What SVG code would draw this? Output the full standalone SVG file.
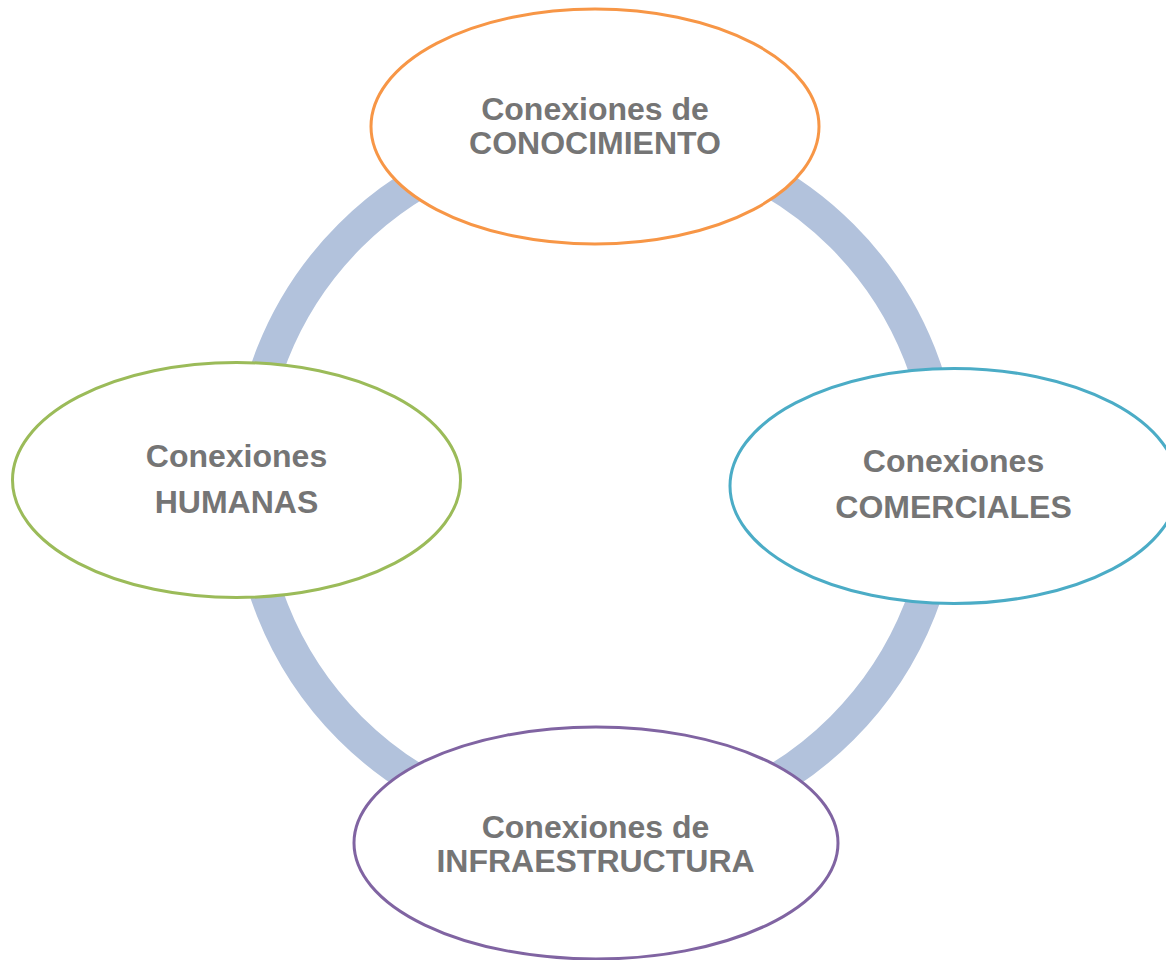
<svg xmlns="http://www.w3.org/2000/svg" width="1166" height="960" viewBox="0 0 1166 960">
<style>
.node{fill:#ffffff;stroke-width:3}
.lbl{font-family:"Liberation Sans",Arial,sans-serif;font-weight:bold;font-size:32px;fill:#757575;text-anchor:middle}
.ring{fill:none;stroke:#B2C2DC;stroke-width:33}
</style>
<rect width="1166" height="960" fill="#ffffff"/>
<g id="connectors">
<circle class="ring" cx="596" cy="482" r="348"/>
</g>
<g id="node-conocimiento">
<ellipse class="node" cx="595" cy="126.5" rx="224" ry="117.5" stroke="#F79646"/>
<text class="lbl" x="595" y="120">Conexiones de</text>
<text class="lbl" x="595" y="154">CONOCIMIENTO</text>
</g>
<g id="node-humanas">
<ellipse class="node" cx="236.5" cy="480" rx="224" ry="117.5" stroke="#9BBB59"/>
<text class="lbl" x="236.5" y="467">Conexiones</text>
<text class="lbl" x="236.5" y="513">HUMANAS</text>
</g>
<g id="node-comerciales">
<ellipse class="node" cx="954" cy="486" rx="224" ry="117.5" stroke="#4BACC6"/>
<text class="lbl" x="953.5" y="472">Conexiones</text>
<text class="lbl" x="953.5" y="518">COMERCIALES</text>
</g>
<g id="node-infraestructura">
<ellipse class="node" cx="596" cy="843" rx="242" ry="116" stroke="#8064A2"/>
<text class="lbl" x="595.5" y="838">Conexiones de</text>
<text class="lbl" x="595.5" y="872">INFRAESTRUCTURA</text>
</g>
</svg>
